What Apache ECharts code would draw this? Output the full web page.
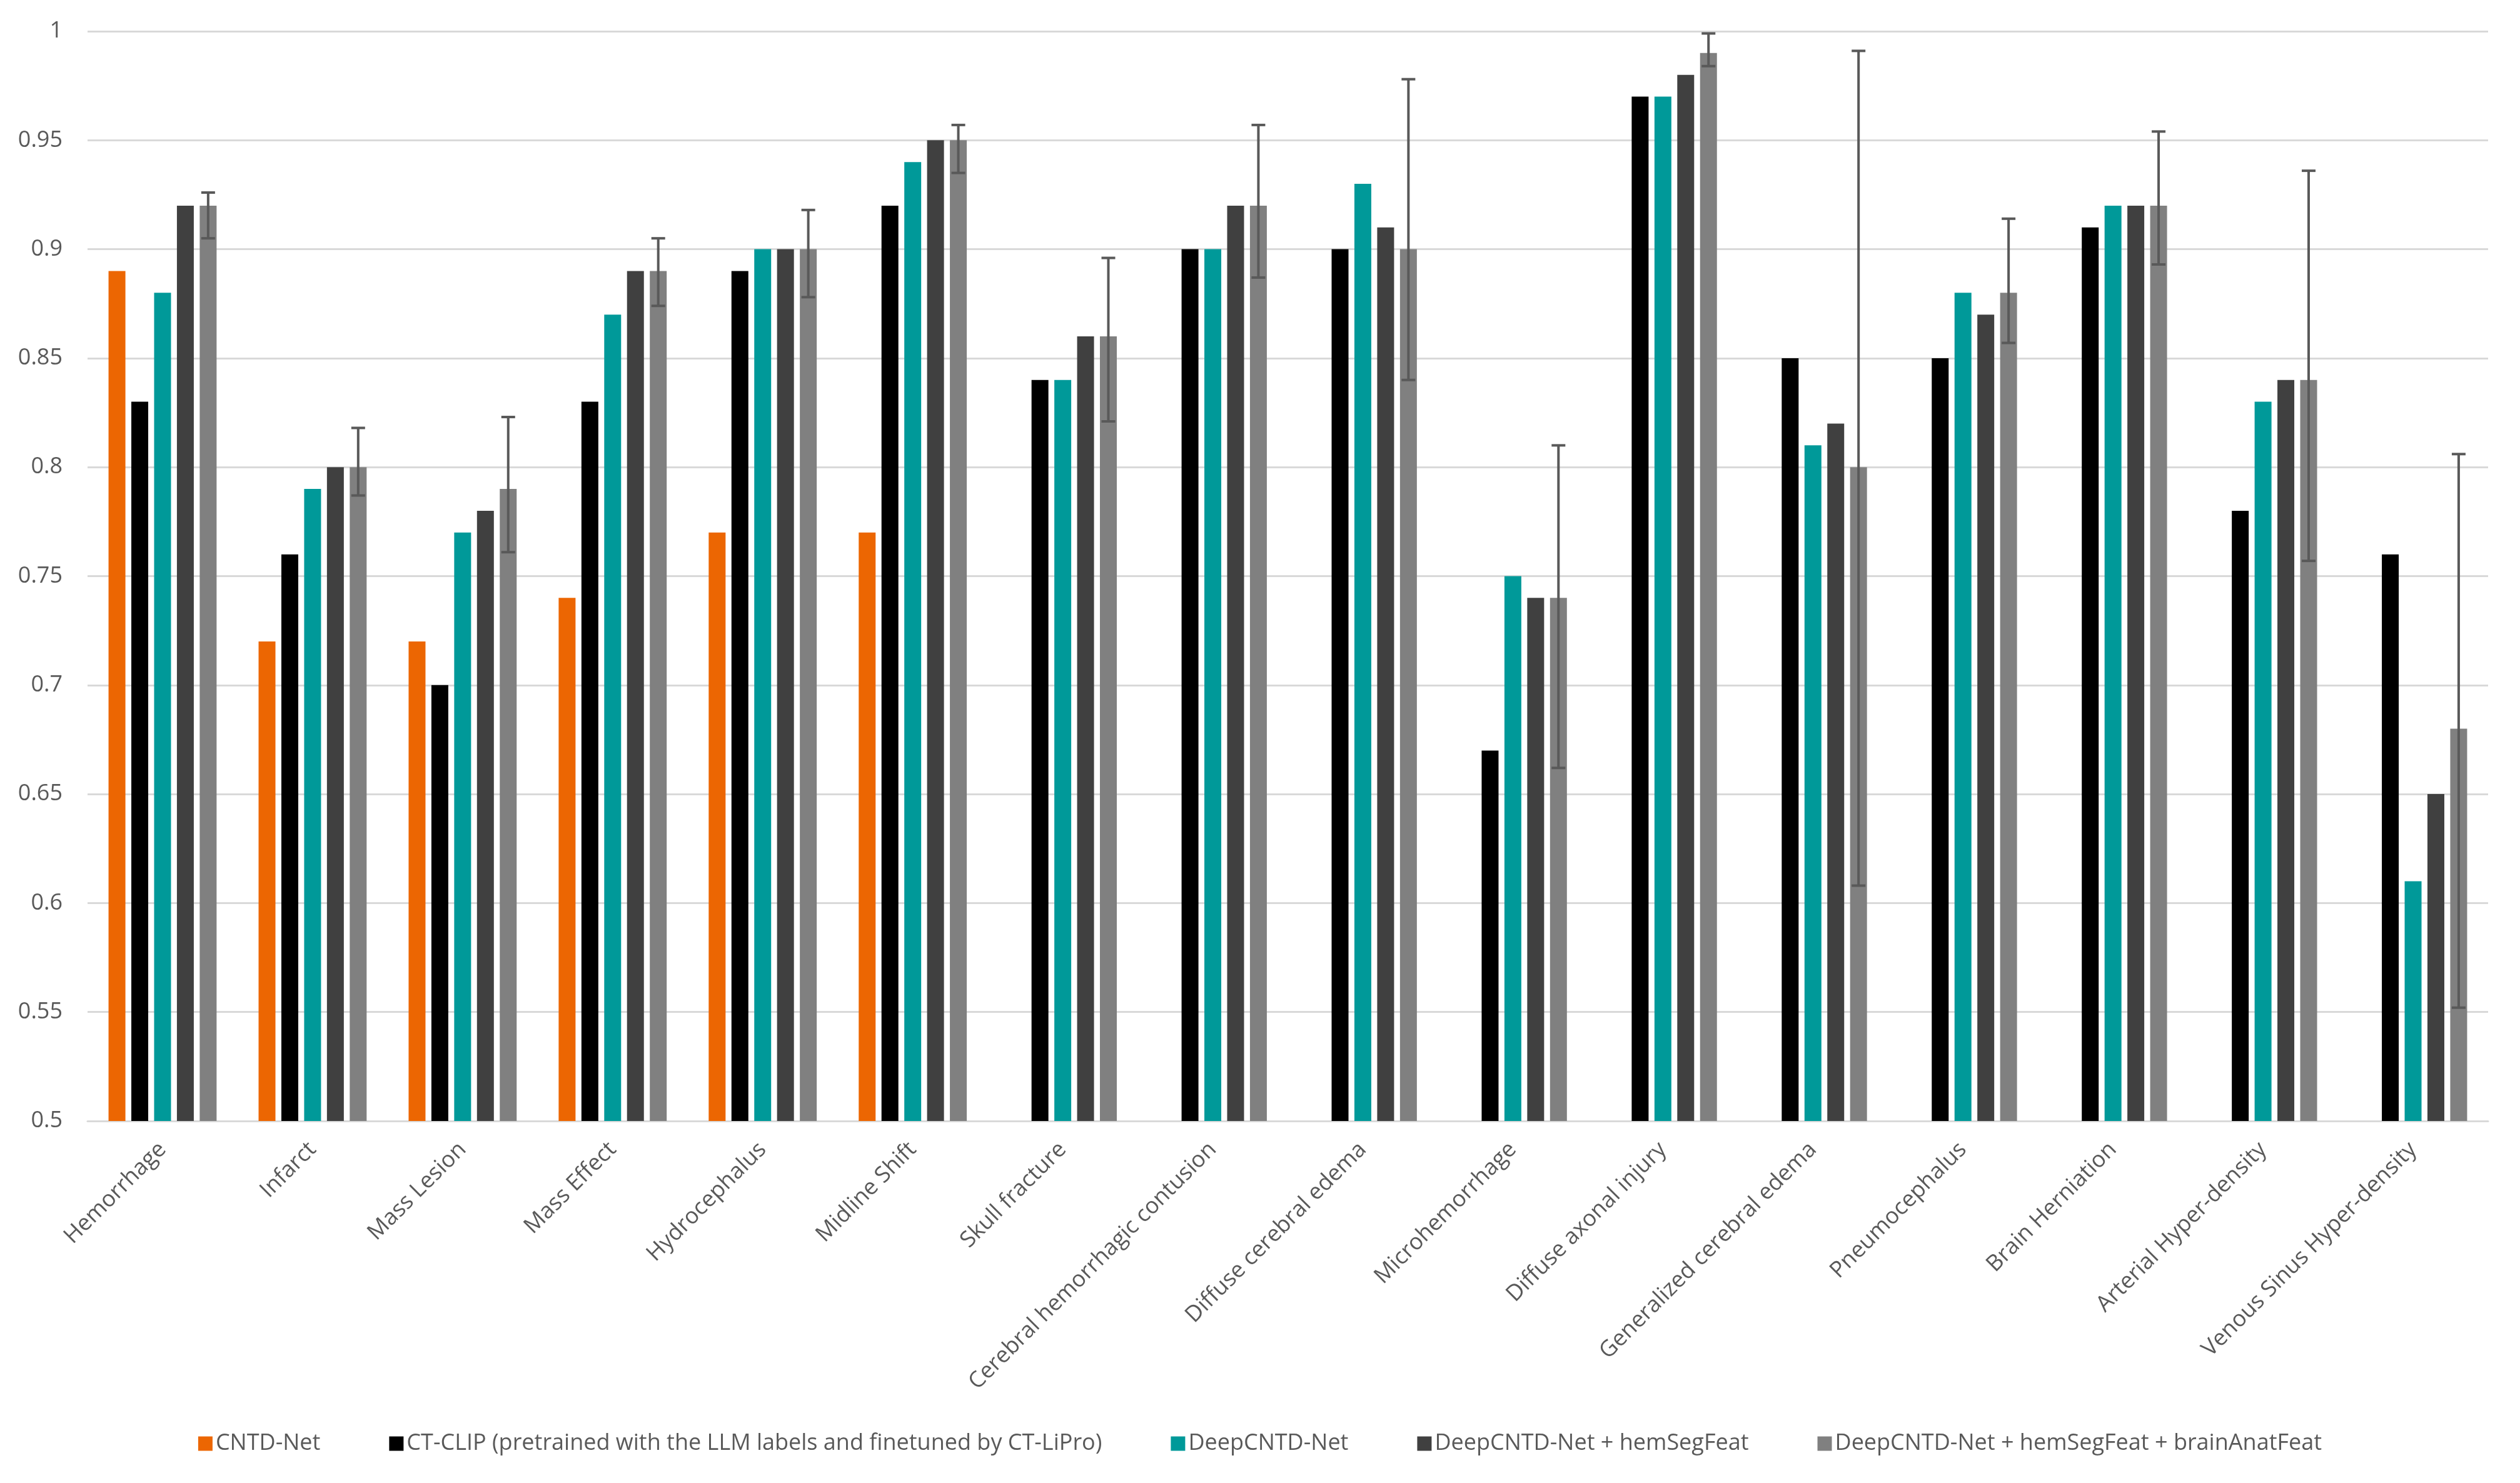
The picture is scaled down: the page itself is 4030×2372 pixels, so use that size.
<!DOCTYPE html>
<html>
<head>
<meta charset="utf-8">
<script src="https://cdn.jsdelivr.net/npm/echarts@6/dist/echarts.min.js"></script>
<style>
  html, body { margin: 0; padding: 0; background: #fff; }
  #chart { width: 4030px; height: 2372px; }
</style>
</head>
<body>
<div id="chart"></div>
<script>
  const categories = [
    "Hemorrhage", "Infarct", "Mass Lesion", "Mass Effect", "Hydrocephalus",
    "Midline Shift", "Skull fracture", "Cerebral hemorrhagic contusion",
    "Diffuse cerebral edema", "Microhemorrhage", "Diffuse axonal injury",
    "Generalized cerebral edema", "Pneumocephalus", "Brain Herniation",
    "Arterial Hyper-density", "Venous Sinus Hyper-density"
  ];
  const seriesNames = [
    "CNTD-Net",
    "CT-CLIP (pretrained with the LLM labels and finetuned by CT-LiPro)",
    "DeepCNTD-Net",
    "DeepCNTD-Net + hemSegFeat",
    "DeepCNTD-Net + hemSegFeat + brainAnatFeat"
  ];
  const cntdNet = [0.89, 0.72, 0.72, 0.74, 0.77, 0.77, "-", "-", "-", "-", "-", "-", "-", "-", "-", "-"];
  const ctClip = [0.83, 0.76, 0.70, 0.83, 0.89, 0.92, 0.84, 0.90, 0.90, 0.67, 0.97, 0.85, 0.85, 0.91, 0.78, 0.76];
  const deepCntd = [0.88, 0.79, 0.77, 0.87, 0.90, 0.94, 0.84, 0.90, 0.93, 0.75, 0.97, 0.81, 0.88, 0.92, 0.83, 0.61];
  const deepHem = [0.92, 0.80, 0.78, 0.89, 0.90, 0.95, 0.86, 0.92, 0.91, 0.74, 0.98, 0.82, 0.87, 0.92, 0.84, 0.65];
  const deepHemAnat = [0.92, 0.80, 0.79, 0.89, 0.90, 0.95, 0.86, 0.92, 0.90, 0.74, 0.99, 0.80, 0.88, 0.92, 0.84, 0.68];
  // error bar ends for the last series
  const errLow = [0.905, 0.787, 0.761, 0.874, 0.878, 0.935, 0.821, 0.887, 0.840, 0.662, 0.984, 0.608, 0.857, 0.893, 0.757, 0.552];
  const errHigh = [0.926, 0.818, 0.823, 0.905, 0.918, 0.957, 0.896, 0.957, 0.978, 0.810, 0.999, 0.991, 0.914, 0.954, 0.936, 0.806];
  const colors = ["#EC6602", "#000000", "#009999", "#404040", "#808080"];

  const BAR_W = 27;
  const BAR_GAP = 0.35;
  const FONT = "'Open Sans', 'DejaVu Sans', sans-serif";

  const chart = echarts.init(document.getElementById("chart"), null, { renderer: "canvas" });

  const barData = [cntdNet, ctClip, deepCntd, deepHem, deepHemAnat];
  const bars = barData.map((d, i) => ({
    name: seriesNames[i],
    type: "bar",
    data: d,
    barWidth: BAR_W,
    barGap: BAR_GAP * 100 + "%",
    itemStyle: { color: colors[i] },
    animation: false
  }));

  const errData = categories.map((c, i) => [i, errLow[i], errHigh[i]]);
  const errSeries = {
    type: "custom",
    name: "err",
    data: errData,
    z: 5,
    animation: false,
    renderItem: (params, api) => {
      const center = api.coord([api.value(0), 0])[0];
      const x = center + 2 * BAR_W * (1 + BAR_GAP);
      const lo = api.coord([api.value(0), api.value(1)])[1];
      const hi = api.coord([api.value(0), api.value(2)])[1];
      const cap = 11;
      const style = { stroke: "#595959", lineWidth: 4 };
      return {
        type: "group",
        children: [
          { type: "line", shape: { x1: x, y1: lo, x2: x, y2: hi }, style: style },
          { type: "line", shape: { x1: x - cap, y1: hi, x2: x + cap, y2: hi }, style: style },
          { type: "line", shape: { x1: x - cap, y1: lo, x2: x + cap, y2: lo }, style: style }
        ]
      };
    }
  };

  chart.setOption({
    backgroundColor: "#ffffff",
    grid: { left: 140, right: 51, top: 50, bottom: 579, containLabel: false },
    legend: {
      data: seriesNames,
      left: "center",
      top: 2286,
      icon: "rect",
      itemWidth: 23,
      itemHeight: 23,
      itemGap: 110,
      textStyle: { fontFamily: FONT, fontSize: 36, color: "#595959" }
    },
    xAxis: {
      type: "category",
      data: categories,
      axisLine: { show: true, lineStyle: { color: "#D9D9D9", width: 3 } },
      axisTick: { show: false },
      axisLabel: {
        interval: 0,
        rotate: 45,
        margin: 40,
        fontFamily: FONT,
        fontSize: 36,
        color: "#595959"
      }
    },
    yAxis: {
      type: "value",
      min: 0.5,
      max: 1,
      interval: 0.05,
      axisLine: { show: false },
      axisTick: { show: false },
      splitLine: { lineStyle: { color: "#D9D9D9", width: 3 } },
      axisLabel: {
        margin: 40,
        fontFamily: FONT,
        fontSize: 36,
        color: "#595959"
      }
    },
    series: [...bars, errSeries]
  });
</script>
</body>
</html>
